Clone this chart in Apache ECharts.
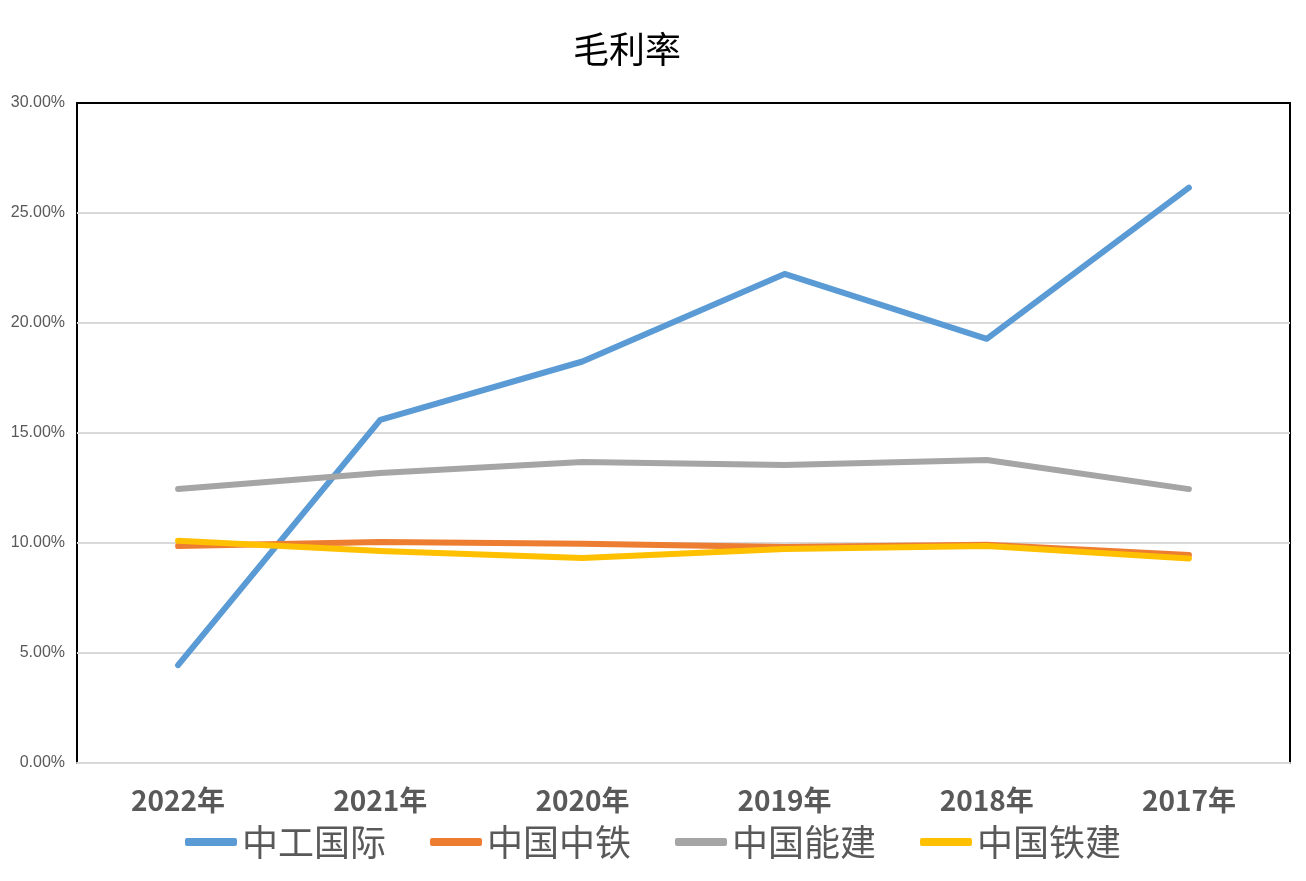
<!DOCTYPE html>
<html>
<head>
<meta charset="utf-8">
<script src="https://cdn.jsdelivr.net/npm/echarts@6/dist/echarts.min.js"></script>
<style>
  html, body { margin: 0; padding: 0; background: #fff; }
  #biao1 { width: 1306px; height: 881px; }
</style>
</head>
<body>
<div id="biao1"></div>
<script>
var years = ['2022年', '2021年', '2020年', '2019年', '2018年', '2017年'];
// 毛利率, unit: %
var zhonggong = [4.45, 15.6, 18.25, 22.23, 19.28, 26.15];
var zhongtie = [9.86, 10.05, 9.97, 9.82, 9.92, 9.45];
var nengjian = [12.45, 13.18, 13.68, 13.55, 13.77, 12.45];
var tiejian = [10.1, 9.64, 9.32, 9.73, 9.86, 9.3];
var yTicks = [0, 5, 10, 15, 20, 25, 30];

var dom = document.getElementById('biao1');
var myChart = echarts.init(dom, null, { renderer: 'canvas' });

function line(name, data, color) {
  return {
    name: name,
    type: 'line',
    data: data,
    symbol: 'none',
    lineStyle: { width: 6, color: color, cap: 'round', join: 'round' },
    itemStyle: { color: color }
  };
}

// gray grid lines, black top line (plot border)
var splitColors = yTicks.map(function (t, i) {
  return i === yTicks.length - 1 ? '#000' : '#d9d9d9';
});

var option = {
  animation: false,
  title: {
    text: '毛利率',
    left: 568,
    top: 26,
    textStyle: { fontSize: 36, fontWeight: 'normal', color: '#000', fontFamily: 'Noto Sans CJK SC' }
  },
  legend: {
    bottom: 16,
    left: 'center',
    itemWidth: 52,
    itemHeight: 8,
    itemGap: 44,
    icon: 'roundRect',
    textStyle: { fontSize: 36, color: '#595959', fontFamily: 'Noto Sans CJK SC' },
    data: ['中工国际', '中国中铁', '中国能建', '中国铁建']
  },
  grid: {
    left: 77, right: 16, top: 103, bottom: 118,
    show: true, borderColor: '#000', borderWidth: 2, backgroundColor: 'transparent'
  },
  xAxis: {
    type: 'category',
    data: years,
    boundaryGap: true,
    axisTick: { show: false },
    axisLine: { lineStyle: { color: '#d9d9d9', width: 2 } },
    axisLabel: { fontSize: 28, fontWeight: 'bold', color: '#595959', margin: 23, fontFamily: 'Noto Sans CJK SC' }
  },
  yAxis: {
    type: 'value',
    min: yTicks[0],
    max: yTicks[yTicks.length - 1],
    interval: 5,
    axisLine: { show: false },
    axisTick: { show: false },
    splitLine: { lineStyle: { color: splitColors, width: 2 } },
    axisLabel: {
      fontSize: 16, color: '#595959', margin: 12,
      formatter: function (v) { return v.toFixed(2) + '%'; }
    }
  },
  series: [
    line('中工国际', zhonggong, '#5B9BD5'),
    line('中国中铁', zhongtie, '#ED7D31'),
    line('中国能建', nengjian, '#A5A5A5'),
    line('中国铁建', tiejian, '#FFC000')
  ]
};

myChart.setOption(option);
window.addEventListener('resize', myChart.resize);
</script>
</body>
</html>
